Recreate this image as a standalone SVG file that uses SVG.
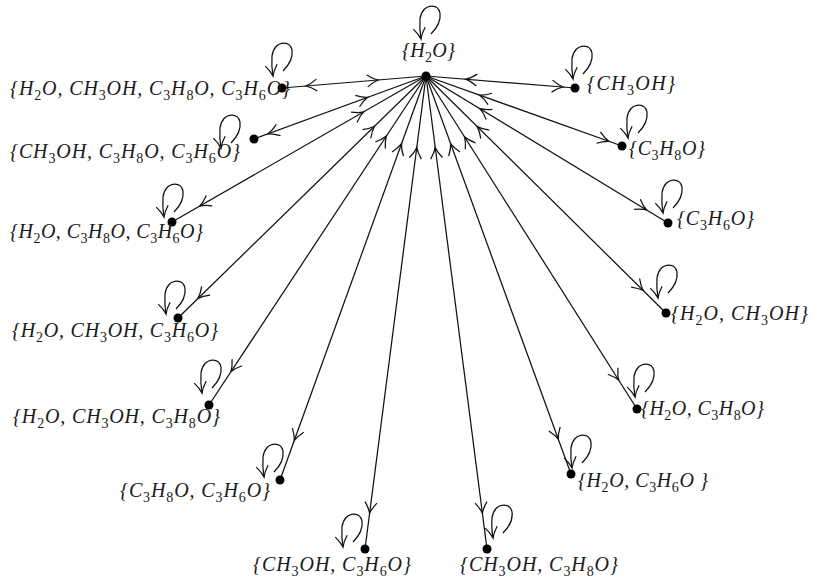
<svg xmlns="http://www.w3.org/2000/svg" xmlns:xlink="http://www.w3.org/1999/xlink" width="814" height="579" viewBox="0 0 814 579">
<style>
.e{stroke:#111;stroke-width:1.25;fill:none}
.m{stroke:none;fill:none;marker-start:url(#ar);marker-end:url(#ar)}
.d{fill:#000}
.t{font-family:"Liberation Serif","Times New Roman",serif;font-size:20px;font-style:italic;fill:#1a1a1a}
.s{font-size:14px;font-style:normal}
</style>
<defs>
<marker id="ar" markerUnits="userSpaceOnUse" markerWidth="16" markerHeight="16" viewBox="-14 -8 16 16" refX="0" refY="0" orient="auto-start-reverse" overflow="visible">
<path d="M-11,-6 C-7,-3 -3,-0.9 0,0 C-3,0.9 -7,3 -11,6" fill="none" stroke="#111" stroke-width="1.25"/>
</marker>
<marker id="la" markerUnits="userSpaceOnUse" markerWidth="16" markerHeight="16" viewBox="-14 -8 16 16" refX="0" refY="0" orient="auto" overflow="visible">
<path d="M-11,-6 C-7,-3 -3,-0.9 0,0 C-3,0.9 -7,3 -11,6" fill="none" stroke="#111" stroke-width="1.25"/>
</marker>
<path id="loop" d="M10,-5 C16,-11 20,-19 19,-26 C18,-31 15,-33 11,-33 C5,-33 0,-28 -1,-20 C-1.5,-13 -1,-6 0,0" fill="none" stroke="#111" stroke-width="1.25" marker-end="url(#la)"/>
</defs>
<g id="connectors">
<path class="e" d="M426,76 L282,88"/><path class="m" d="M378.2,80 L305.9,86"/>
<path class="e" d="M426,76 L254,139"/><path class="m" d="M367.8,97.3 L268.1,133.8"/>
<path class="e" d="M426,76 L172,222"/><path class="m" d="M363.6,111.9 L199.7,206.1"/>
<path class="e" d="M426,76 L178,318"/><path class="m" d="M374.5,126.3 L198,298.4"/>
<path class="e" d="M426,76 L209,405"/><path class="m" d="M386.4,136.1 L231,371.6"/>
<path class="e" d="M426,76 L280,480"/><path class="m" d="M401.5,143.7 L294.3,440.5"/>
<path class="e" d="M426,76 L365,549"/><path class="m" d="M416.8,147.4 L369.6,513.3"/>
<path class="e" d="M426,76 L487,549"/><path class="m" d="M435.2,147.4 L482.4,513.3"/>
<path class="e" d="M426,76 L571,474"/><path class="m" d="M450.6,143.7 L558.3,439.2"/>
<path class="e" d="M426,76 L637,409"/><path class="m" d="M464.5,136.8 L618.8,380.3"/>
<path class="e" d="M426,76 L666,313"/><path class="m" d="M477.2,126.6 L643.2,290.5"/>
<path class="e" d="M426,76 L668,223"/><path class="m" d="M479.9,108.7 L646.6,210"/>
<path class="e" d="M426,76 L622,146"/><path class="m" d="M479.7,95.2 L608.8,141.3"/>
<path class="e" d="M426,76 L575,88"/><path class="m" d="M465.9,79.2 L563,87"/>
</g>
<g id="n0">
<circle class="d" cx="426" cy="76" r="4.5"/>
<use xlink:href="#loop" href="#loop" transform="translate(421,39)"/>
<text class="t" x="402" y="57" textLength="53">{H<tspan class="s" dy="5">2</tspan><tspan dy="-5">O}</tspan></text>
</g>
<g id="n1">
<circle class="d" cx="282" cy="88" r="4.5"/>
<use xlink:href="#loop" href="#loop" transform="translate(273,76)"/>
<text class="t" x="10" y="95" textLength="280">{H<tspan class="s" dy="5">2</tspan><tspan dy="-5">O, CH</tspan><tspan class="s" dy="5">3</tspan><tspan dy="-5">OH, C</tspan><tspan class="s" dy="5">3</tspan><tspan dy="-5">H</tspan><tspan class="s" dy="5">8</tspan><tspan dy="-5">O, C</tspan><tspan class="s" dy="5">3</tspan><tspan dy="-5">H</tspan><tspan class="s" dy="5">6</tspan><tspan dy="-5">O}</tspan></text>
</g>
<g id="n2">
<circle class="d" cx="254" cy="139" r="4.5"/>
<use xlink:href="#loop" href="#loop" transform="translate(221,148)"/>
<text class="t" x="10" y="158" textLength="230">{CH<tspan class="s" dy="5">3</tspan><tspan dy="-5">OH, C</tspan><tspan class="s" dy="5">3</tspan><tspan dy="-5">H</tspan><tspan class="s" dy="5">8</tspan><tspan dy="-5">O, C</tspan><tspan class="s" dy="5">3</tspan><tspan dy="-5">H</tspan><tspan class="s" dy="5">6</tspan><tspan dy="-5">O}</tspan></text>
</g>
<g id="n3">
<circle class="d" cx="172" cy="222" r="4.5"/>
<use xlink:href="#loop" href="#loop" transform="translate(164,217)"/>
<text class="t" x="10" y="238" textLength="193">{H<tspan class="s" dy="5">2</tspan><tspan dy="-5">O, C</tspan><tspan class="s" dy="5">3</tspan><tspan dy="-5">H</tspan><tspan class="s" dy="5">8</tspan><tspan dy="-5">O, C</tspan><tspan class="s" dy="5">3</tspan><tspan dy="-5">H</tspan><tspan class="s" dy="5">6</tspan><tspan dy="-5">O}</tspan></text>
</g>
<g id="n4">
<circle class="d" cx="178" cy="318" r="4.5"/>
<use xlink:href="#loop" href="#loop" transform="translate(166,314)"/>
<text class="t" x="12" y="337" textLength="206">{H<tspan class="s" dy="5">2</tspan><tspan dy="-5">O, CH</tspan><tspan class="s" dy="5">3</tspan><tspan dy="-5">OH, C</tspan><tspan class="s" dy="5">3</tspan><tspan dy="-5">H</tspan><tspan class="s" dy="5">6</tspan><tspan dy="-5">O}</tspan></text>
</g>
<g id="n5">
<circle class="d" cx="209" cy="405" r="4.5"/>
<use xlink:href="#loop" href="#loop" transform="translate(202,393)"/>
<text class="t" x="13" y="423" textLength="207">{H<tspan class="s" dy="5">2</tspan><tspan dy="-5">O, CH</tspan><tspan class="s" dy="5">3</tspan><tspan dy="-5">OH, C</tspan><tspan class="s" dy="5">3</tspan><tspan dy="-5">H</tspan><tspan class="s" dy="5">8</tspan><tspan dy="-5">O}</tspan></text>
</g>
<g id="n6">
<circle class="d" cx="280" cy="480" r="4.5"/>
<use xlink:href="#loop" href="#loop" transform="translate(264,477)"/>
<text class="t" x="120" y="497" textLength="150">{C<tspan class="s" dy="5">3</tspan><tspan dy="-5">H</tspan><tspan class="s" dy="5">8</tspan><tspan dy="-5">O, C</tspan><tspan class="s" dy="5">3</tspan><tspan dy="-5">H</tspan><tspan class="s" dy="5">6</tspan><tspan dy="-5">O}</tspan></text>
</g>
<g id="n7">
<circle class="d" cx="365" cy="549" r="4.5"/>
<use xlink:href="#loop" href="#loop" transform="translate(343,547)"/>
<text class="t" x="253" y="571" textLength="158">{CH<tspan class="s" dy="5">3</tspan><tspan dy="-5">OH, C</tspan><tspan class="s" dy="5">3</tspan><tspan dy="-5">H</tspan><tspan class="s" dy="5">6</tspan><tspan dy="-5">O}</tspan></text>
</g>
<g id="n8">
<circle class="d" cx="487" cy="549" r="4.5"/>
<use xlink:href="#loop" href="#loop" transform="translate(493,538)"/>
<text class="t" x="460" y="571" textLength="158">{CH<tspan class="s" dy="5">3</tspan><tspan dy="-5">OH, C</tspan><tspan class="s" dy="5">3</tspan><tspan dy="-5">H</tspan><tspan class="s" dy="5">8</tspan><tspan dy="-5">O}</tspan></text>
</g>
<g id="n9">
<circle class="d" cx="571" cy="474" r="4.5"/>
<use xlink:href="#loop" href="#loop" transform="translate(572,468)"/>
<text class="t" x="578" y="487" textLength="130">{H<tspan class="s" dy="5">2</tspan><tspan dy="-5">O, C</tspan><tspan class="s" dy="5">3</tspan><tspan dy="-5">H</tspan><tspan class="s" dy="5">6</tspan><tspan dy="-5">O }</tspan></text>
</g>
<g id="n10">
<circle class="d" cx="637" cy="409" r="4.5"/>
<use xlink:href="#loop" href="#loop" transform="translate(635,397)"/>
<text class="t" x="641" y="415" textLength="123">{H<tspan class="s" dy="5">2</tspan><tspan dy="-5">O, C</tspan><tspan class="s" dy="5">3</tspan><tspan dy="-5">H</tspan><tspan class="s" dy="5">8</tspan><tspan dy="-5">O}</tspan></text>
</g>
<g id="n11">
<circle class="d" cx="666" cy="313" r="4.5"/>
<use xlink:href="#loop" href="#loop" transform="translate(658,298)"/>
<text class="t" x="671" y="320" textLength="137">{H<tspan class="s" dy="5">2</tspan><tspan dy="-5">O, CH</tspan><tspan class="s" dy="5">3</tspan><tspan dy="-5">OH}</tspan></text>
</g>
<g id="n12">
<circle class="d" cx="668" cy="223" r="4.5"/>
<use xlink:href="#loop" href="#loop" transform="translate(663,213)"/>
<text class="t" x="677" y="225" textLength="77">{C<tspan class="s" dy="5">3</tspan><tspan dy="-5">H</tspan><tspan class="s" dy="5">6</tspan><tspan dy="-5">O}</tspan></text>
</g>
<g id="n13">
<circle class="d" cx="622" cy="146" r="4.5"/>
<use xlink:href="#loop" href="#loop" transform="translate(628,138)"/>
<text class="t" x="629" y="155" textLength="76">{C<tspan class="s" dy="5">3</tspan><tspan dy="-5">H</tspan><tspan class="s" dy="5">8</tspan><tspan dy="-5">O}</tspan></text>
</g>
<g id="n14">
<circle class="d" cx="575" cy="88" r="4.5"/>
<use xlink:href="#loop" href="#loop" transform="translate(573,79)"/>
<text class="t" x="587" y="90" textLength="88">{CH<tspan class="s" dy="5">3</tspan><tspan dy="-5">OH}</tspan></text>
</g>
</svg>
